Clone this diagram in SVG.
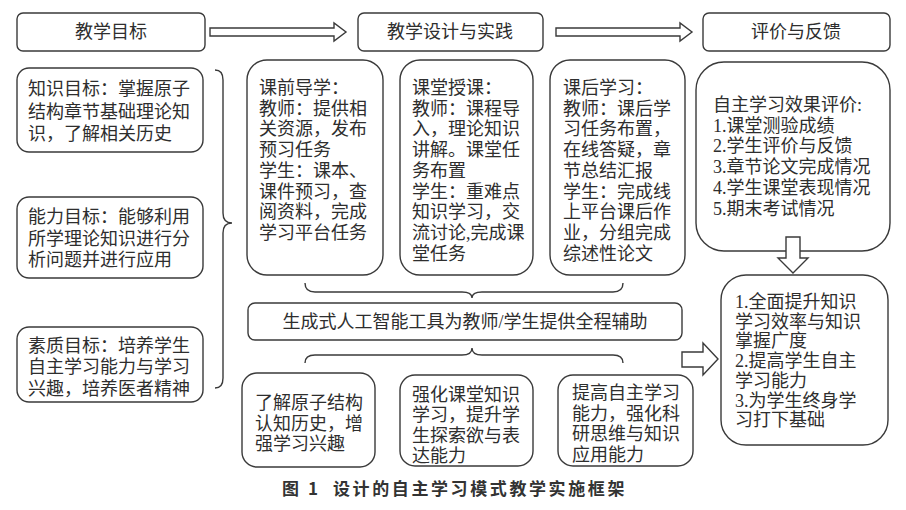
<svg xmlns="http://www.w3.org/2000/svg" width="906" height="510" viewBox="0 0 906 510">
<style>
.b{fill:#fff;stroke:#3a3a3a;stroke-width:1.4}
.c{fill:none;stroke:#3a3a3a;stroke-width:1.4}
.a{fill:#fff;stroke:#3a3a3a;stroke-width:1.4;stroke-linejoin:miter}
text{font-family:"Liberation Serif","Noto Sans CJK SC",serif;font-size:18px;fill:#2e2e2e}
.m{text-anchor:middle}
.cap{font-family:"Noto Sans CJK SC",sans-serif;font-size:17px;font-weight:bold;fill:#333;letter-spacing:2.6px}
</style>
<rect width="906" height="510" fill="#fff"/>

<g id="connectors">
<polygon class="a" points="210,28 334,28 334,23 346,32 334,41 334,36 210,36"/>
<polygon class="a" points="556,28 680,28 680,23 692,32 680,41 680,36 556,36"/>
<path class="c" d="M215,70 Q223,70 223,80 L223,213 Q223,223 232,223 Q223,223 223,233 L223,378 Q223,388 215,388"/>
<path class="c" d="M305,283 Q305,292 315,292 L462,292 Q472,292 472,298 Q472,292 482,292 L613,292 Q623,292 623,283"/>
<path class="c" d="M305,363 Q305,355 315,355 L462,355 Q472,355 472,348 Q472,355 482,355 L613,355 Q623,355 623,363"/>
<polygon class="a" points="682,352 703,352 703,343 718,359 703,375 703,367 682,367"/>
</g>

<g id="n-goal">
<rect class="b" x="17" y="13" width="188" height="38" rx="6"/>
<text class="m" x="111" y="38">教学目标</text>
</g>
<g id="n-design">
<rect class="b" x="358" y="13" width="185" height="38" rx="6"/>
<text class="m" x="450" y="38">教学设计与实践</text>
</g>
<g id="n-eval">
<rect class="b" x="703" y="13" width="187" height="38" rx="6"/>
<text class="m" x="796" y="38">评价与反馈</text>
</g>

<g id="n-knowledge">
<rect class="b" x="17" y="68" width="186" height="84" rx="12"/>
<text x="28" y="95">知识目标：掌握原子</text>
<text x="28" y="118">结构章节基础理论知</text>
<text x="28" y="140">识，了解相关历史</text>
</g>
<g id="n-ability">
<rect class="b" x="17" y="197" width="186" height="81" rx="12"/>
<text x="28" y="223">能力目标：能够利用</text>
<text x="28" y="245">所学理论知识进行分</text>
<text x="28" y="266">析问题并进行应用</text>
</g>
<g id="n-quality">
<rect class="b" x="17" y="327" width="186" height="75" rx="12"/>
<text x="28" y="352">素质目标：培养学生</text>
<text x="28" y="373">自主学习能力与学习</text>
<text x="28" y="395">兴趣，培养医者精神</text>
</g>

<g id="n-pre">
<rect class="b" x="247" y="60" width="136" height="215" rx="20"/>
<text x="259" y="94">课前导学：</text>
<text x="259" y="114.7">教师：提供相</text>
<text x="259" y="135.4">关资源，发布</text>
<text x="259" y="156.1">预习任务</text>
<text x="259" y="176.8">学生：课本、</text>
<text x="259" y="197.5">课件预习，查</text>
<text x="259" y="218.2">阅资料，完成</text>
<text x="259" y="238.9">学习平台任务</text>
</g>
<g id="n-class">
<rect class="b" x="400" y="60" width="133" height="215" rx="20"/>
<text x="412" y="94">课堂授课：</text>
<text x="412" y="114.7">教师：课程导</text>
<text x="412" y="135.4">入，理论知识</text>
<text x="412" y="156.1">讲解。课堂任</text>
<text x="412" y="176.8">务布置</text>
<text x="412" y="197.5">学生：重难点</text>
<text x="412" y="218.2">知识学习，交</text>
<text x="412" y="238.9">流讨论,完成课</text>
<text x="412" y="259.6">堂任务</text>
</g>
<g id="n-post">
<rect class="b" x="550" y="60" width="135" height="215" rx="20"/>
<text x="563" y="94">课后学习：</text>
<text x="563" y="114.7">教师：课后学</text>
<text x="563" y="135.4">习任务布置，</text>
<text x="563" y="156.1">在线答疑，章</text>
<text x="563" y="176.8">节总结汇报</text>
<text x="563" y="197.5">学生：完成线</text>
<text x="563" y="218.2">上平台课后作</text>
<text x="563" y="238.9">业，分组完成</text>
<text x="563" y="259.6">综述性论文</text>
</g>

<g id="n-selfeval">
<rect class="b" x="696" y="62" width="194" height="189" rx="28"/>
<text x="713" y="111">自主学习效果评价:</text>
<text x="713" y="131.7">1.课堂测验成绩</text>
<text x="713" y="152.4">2.学生评价与反馈</text>
<text x="713" y="173.1">3.章节论文完成情况</text>
<text x="713" y="193.8">4.学生课堂表现情况</text>
<text x="713" y="214.5">5.期末考试情况</text>
</g>
<g id="c-down">
<polygon class="a" points="786,237 800,237 800,258 808,258 793,273 778,258 786,258"/>
</g>

<g id="n-ai">
<rect class="b" x="248" y="303" width="434" height="37" rx="7"/>
<text class="m" x="465" y="328">生成式人工智能工具为教师/学生提供全程辅助</text>
</g>

<g id="n-out1">
<rect class="b" x="242" y="373" width="133" height="94" rx="15"/>
<text x="255" y="409">了解原子结构</text>
<text x="255" y="429.5">认知历史，增</text>
<text x="255" y="450">强学习兴趣</text>
</g>
<g id="n-out2">
<rect class="b" x="400" y="375" width="133" height="91" rx="15"/>
<text x="412" y="401">强化课堂知识</text>
<text x="412" y="421">学习，提升学</text>
<text x="412" y="441.5">生探索欲与表</text>
<text x="412" y="462">达能力</text>
</g>
<g id="n-out3">
<rect class="b" x="558" y="375" width="135" height="91" rx="15"/>
<text x="572" y="399">提高自主学习</text>
<text x="572" y="419.5">能力，强化科</text>
<text x="572" y="440">研思维与知识</text>
<text x="572" y="460.5">应用能力</text>
</g>

<g id="n-result">
<rect class="b" x="721" y="275" width="167" height="170" rx="25"/>
<text x="735" y="308">1.全面提升知识</text>
<text x="735" y="327.7">学习效率与知识</text>
<text x="735" y="347.4">掌握广度</text>
<text x="735" y="367.1">2.提高学生自主</text>
<text x="735" y="386.8">学习能力</text>
<text x="735" y="406.5">3.为学生终身学</text>
<text x="735" y="426.2">习打下基础</text>
</g>

<text class="cap" x="282" y="495">图 1</text>
<text class="cap" x="333" y="495">设计的自主学习模式教学实施框架</text>
</svg>
